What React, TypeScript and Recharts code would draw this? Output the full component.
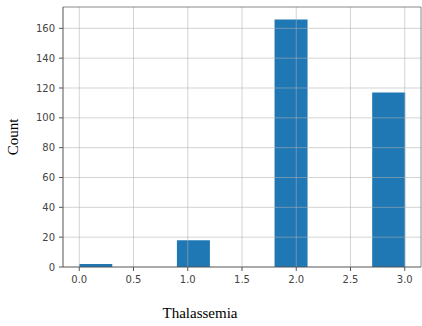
import React from 'react';
import { BarChart, Bar, XAxis, YAxis, ReferenceLine } from 'recharts';

// histogram bins (10 bins over 0..3, width 0.3) and counts
const binCenters = [0.15, 0.45, 0.75, 1.05, 1.35, 1.65, 1.95, 2.25, 2.55, 2.85];
const binCounts = [2, 0, 0, 18, 0, 0, 166, 0, 0, 117];
const xTicks = [0, 0.5, 1, 1.5, 2, 2.5, 3];
const yTicks = [0, 20, 40, 60, 80, 100, 120, 140, 160];
const xDomain = [-0.15, 3.15];
const yDomain = [0, 174.3];

const data = binCenters.map((x, i) => ({ x, count: binCounts[i] }));

const tickStyle = { fontSize: 10, fill: '#444', fontFamily: 'DejaVu Sans' };
const gridColor = '#b0b0b0';
const spineColor = '#555';

const App: React.FC = () => {
  return (
    <div style={{ position: 'absolute', left: 0, top: 0, background: '#fff' }}>
      <BarChart
        width={422}
        height={326}
        data={data}
        margin={{ top: 7, right: 1, left: 0, bottom: 0 }}
        barCategoryGap={0}
        barGap={0}
      >
        <XAxis
          dataKey="x"
          type="number"
          domain={xDomain}
          ticks={xTicks}
          allowDataOverflow
          height={59}
          tickSize={4}
          tickMargin={5}
          tick={tickStyle}
          tickFormatter={(v: number) => v.toFixed(1)}
          stroke={spineColor}
          label={{
            value: 'Thalassemia',
            position: 'insideBottom',
            offset: 8,
            dx: -42,
            style: { fontFamily: 'Liberation Serif', fontSize: 15, fill: '#000' },
          }}
        />
        <YAxis
          type="number"
          domain={yDomain}
          ticks={yTicks}
          allowDataOverflow
          width={63}
          tickSize={4}
          tickMargin={4}
          tick={tickStyle}
          stroke={spineColor}
          label={{
            value: 'Count',
            angle: -90,
            position: 'center',
            dx: -19,
            style: { fontFamily: 'Liberation Serif', fontSize: 15, fill: '#000' },
          }}
        />
        <Bar dataKey="count" fill="#1f77b4" isAnimationActive={false} />
        {/* grid drawn over the bars, like matplotlib */}
        {xTicks.map((t) => (
          <ReferenceLine key={'gx' + t} x={t} stroke={gridColor} strokeOpacity={0.55} />
        ))}
        {yTicks.slice(1).map((t) => (
          <ReferenceLine key={'gy' + t} y={t} stroke={gridColor} strokeOpacity={0.55} />
        ))}
        {/* top and right spines */}
        <ReferenceLine y={yDomain[1]} stroke={spineColor} strokeOpacity={0.7} />
        <ReferenceLine x={xDomain[1]} stroke={spineColor} strokeOpacity={0.7} />
      </BarChart>
    </div>
  );
};

export default App;
